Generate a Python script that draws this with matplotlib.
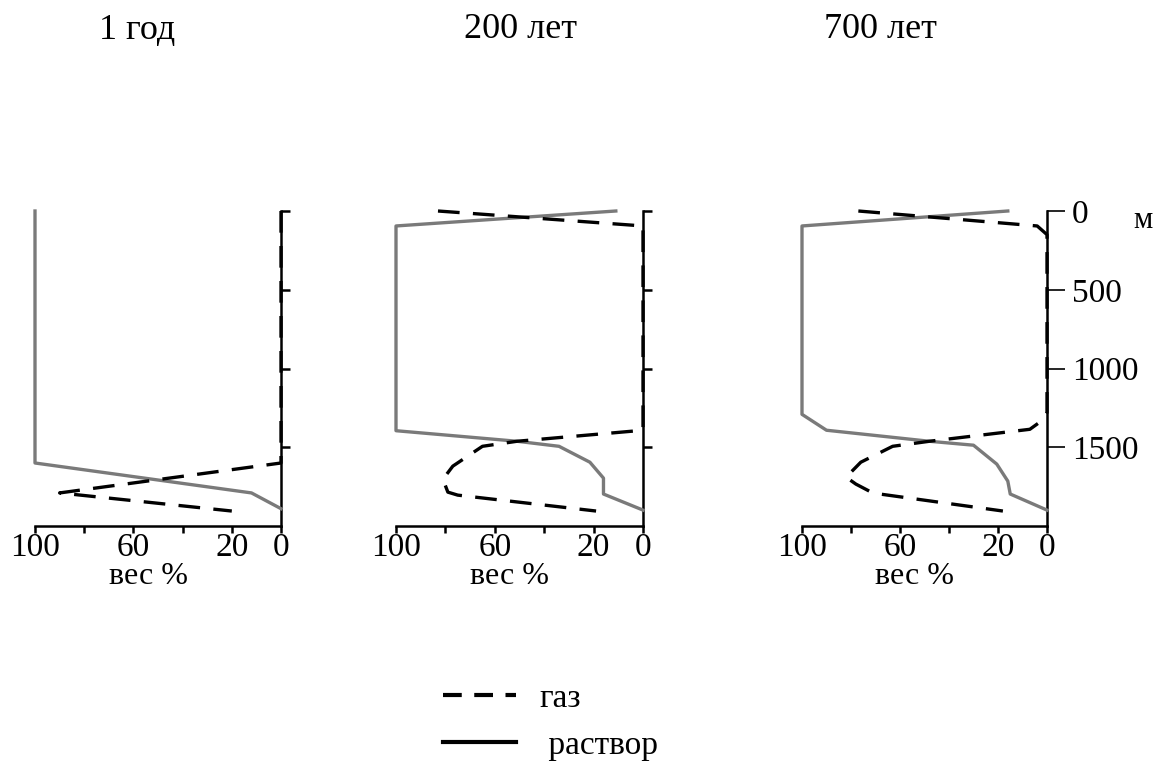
import matplotlib
matplotlib.use("Agg")
import matplotlib.pyplot as plt
from matplotlib.lines import Line2D

plt.rcParams['font.family'] = ['Liberation Serif', 'DejaVu Serif']

# depth, m
titles = ['1 год', '200 лет', '700 лет']

# solution (раствор), weight %
sol_x1 = [100, 100, 12, 0]
sol_y1 = [0, 1600, 1790, 1890]
sol_x2 = [11, 100, 100, 51, 34, 21.5, 16, 16, 0]
sol_y2 = [0, 95, 1395, 1462, 1494, 1595, 1696, 1797, 1899]
sol_x3 = [16, 100, 100, 90, 48, 30, 20.5, 16, 15, 0]
sol_y3 = [0, 95, 1291, 1392, 1462, 1487, 1607, 1715, 1797, 1899]

# gas (газ), weight %
gas_x1 = [0, 0, 90, 20]
gas_y1 = [0, 1600, 1790, 1905]
gas_x2 = [83, 0, 0, 51, 65, 77, 81, 79, 75, 19]
gas_y2 = [0, 95, 1392, 1462, 1494, 1620, 1703, 1785, 1804, 1905]
gas_x3 = [77, 4, 0, 0, 2, 7, 48, 63, 76, 82, 78, 71, 18]
gas_y3 = [0, 95, 150, 1280, 1330, 1386, 1462, 1494, 1595, 1690, 1734, 1791, 1905]

x_ticks = [100, 80, 60, 40, 20, 0]
x_labels = ['100', '', '60', '', '20', '0']
y_ticks = [0, 500, 1000, 1500]
y_labels = ['0', '500', '1000', '1500']

W, H = 1156, 762
fig = plt.figure(figsize=(W / 100, H / 100), dpi=100)

panels = [
    (35, 246, sol_x1, sol_y1, gas_x1, gas_y1),
    (396, 247, sol_x2, sol_y2, gas_x2, gas_y2),
    (802, 245, sol_x3, sol_y3, gas_x3, gas_y3),
]
title_cx = [137, 520, 880]

for i, (left, width, sx, sy, gx, gy) in enumerate(panels):
    ax = fig.add_axes([left / W, 1 - 526 / H, width / W, 315 / H])
    ax.plot(sx, sy, color='#7a7a7a', lw=2.4, clip_on=False, zorder=3)
    ax.plot(gx, gy, color='black', lw=2.4, dashes=(6.5, 4), clip_on=False, zorder=4)
    ax.set_xlim(100, 0)
    ax.set_ylim(2000, 0)
    for s in ['top', 'left']:
        ax.spines[s].set_visible(False)
    ax.spines['bottom'].set_linewidth(1.8)
    ax.spines['right'].set_linewidth(1.8)
    ax.set_xticks(x_ticks)
    ax.set_xticklabels(x_labels, fontsize=24)
    ax.tick_params(axis='x', direction='out', length=5, width=1.8, pad=0)
    ax.yaxis.tick_right()
    ax.set_yticks(y_ticks)
    if i == 2:
        ax.set_yticklabels(y_labels, fontsize=24)
        ax.tick_params(axis='y', direction='out', length=13, width=1.2, pad=5)
    else:
        ax.set_yticklabels([])
        ax.tick_params(axis='y', direction='out', length=6.5, width=1.8)
    ax.set_xlabel('вес %', fontsize=23)
    ax.xaxis.set_label_coords(0.46, -0.115)
    fig.text(title_cx[i] / W, 1 - 30 / H, titles[i], fontsize=26,
             ha='center', va='center')

fig.text(1143 / W, 1 - 220 / H, 'м', fontsize=22, ha='center', va='center')

handles = [Line2D([], [], color='black', lw=3, dashes=(4.5, 3)),
           Line2D([], [], color='black', lw=3)]
fig.legend(handles, ['газ', ' раствор'], loc='center left',
           bbox_to_anchor=(413 / W, 1 - 722 / H), frameon=False,
           fontsize=24, handlelength=2.2, handletextpad=0.7, labelspacing=0.5)

fig.savefig('out.png', dpi=100)
